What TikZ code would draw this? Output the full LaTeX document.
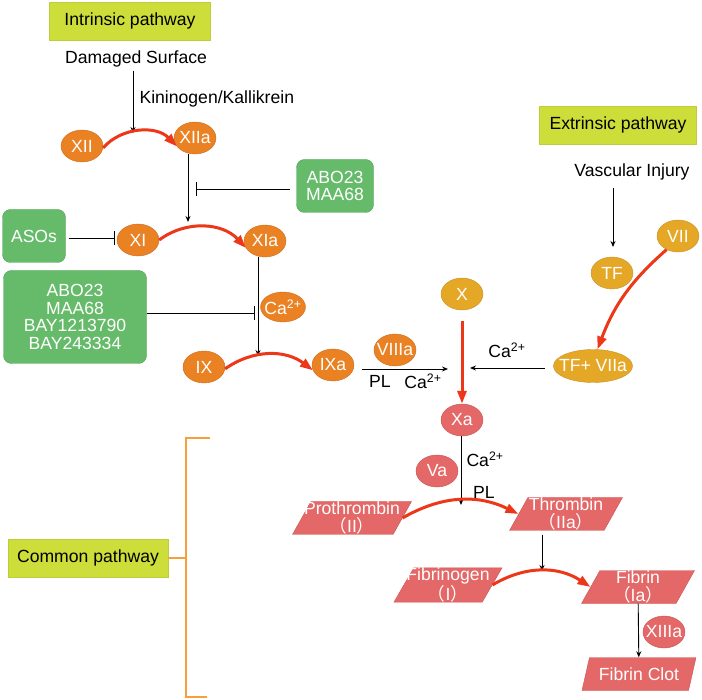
\documentclass[tikz,border=0pt]{standalone}
\usepackage{fontspec}
\setmainfont{Liberation Sans}
\newfontfamily\cjk{Noto Sans CJK SC}
\usetikzlibrary{shapes.geometric,arrows.meta,positioning}
\definecolor{lime}{RGB}{205,221,57}
\definecolor{limed}{RGB}{190,205,60}
\definecolor{grn}{RGB}{102,187,106}
\definecolor{grnd}{RGB}{85,160,90}
\definecolor{org}{RGB}{234,130,35}
\definecolor{orgd}{RGB}{205,110,35}
\definecolor{yel}{RGB}{229,167,38}
\definecolor{yeld}{RGB}{200,145,40}
\definecolor{pnk}{RGB}{229,104,104}
\definecolor{pnkd}{RGB}{200,85,85}
\definecolor{redA}{RGB}{236,55,25}
\definecolor{brko}{RGB}{245,160,60}

\begin{document}
\begin{tikzpicture}[x=1pt,y=-1pt,
  every node/.style={font=\fontsize{17.6}{17.6}\selectfont},
  fac/.style={ellipse,draw=orgd,fill=org,text=white,inner ysep=0pt,
    inner xsep=-6pt,minimum width=42pt,minimum height=32pt},
  ext/.style={fac,draw=yeld,fill=yel},
  com/.style={fac,draw=pnkd,fill=pnk},
  drug/.style={rectangle,rounded corners=8pt,draw=grnd,fill=grn,
    text=white,align=center,inner sep=0pt},
  pwbox/.style={rectangle,draw=limed,fill=lime,minimum height=38pt},
  para/.style={trapezium,trapezium left angle=60,trapezium right angle=120,
    trapezium stretches body,draw=pnkd,fill=pnk,text=white,align=center,
    inner ysep=0pt,inner xsep=-14pt,minimum height=33pt,
    font=\fontsize{17.6}{17.5}\selectfont},
  arr/.style={-{Stealth[length=6pt,width=5pt]},line width=0.9pt},
  inh/.style={-{Bar[width=14pt]},line width=0.9pt},
  conv/.style={-{Triangle[length=13pt,width=9pt]},line width=3pt,draw=redA},
  brk/.style={draw=brko,line width=1.2pt}]
\useasboundingbox (0,0) rectangle (702,700);

\node[pwbox,minimum width=161pt] (intr) at (130,21) {Intrinsic pathway};
\node[pwbox,minimum width=157pt] (extr) at (618,125) {Extrinsic pathway};
\node[pwbox,minimum width=160pt] (common) at (88,558) {Common pathway};

\node (dmg) at (136,59) {Damaged Surface};
\node[anchor=west] (kk) at (136,99) {Kininogen/Kallikrein};
\node (vi) at (632,172) {Vascular Injury};

\node[fac] (xii) at (82,146) {XII};
\node[fac] (xiia) at (195,138) {XIIa};
\node[fac] (xi) at (138,240) {XI};
\node[fac] (xia) at (265,241) {XIa};
\node[fac,minimum width=45pt,minimum height=30pt] (ca) at (283,307) {Ca\textsuperscript{2+}};
\node[fac] (ix) at (204,367) {IX};
\node[fac] (ixa) at (333,365) {IXa};
\node[fac] (viiia) at (395,350) {VIIIa};

\node[ext] (x) at (462,294) {X};
\node[ext] (tf) at (612,273) {TF};
\node[ext] (vii) at (678,236) {VII};
\node[ext,minimum width=78pt,minimum height=33pt] (tfv) at (593,366) {TF+ VIIa};

\node[com] (xa) at (462,420) {Xa};
\node[com] (va) at (437,471) {Va};
\node[com] (xiiia) at (664,632) {XIIIa};

\node[drug,minimum width=77pt,minimum height=53pt] (abo1) at (335,186) {ABO23\\MAA68};
\node[drug,minimum width=63pt,minimum height=53pt] (asos) at (34,236) {ASOs};
\node[drug,minimum width=143pt,minimum height=93pt] (abo2) at (75,317)
  {ABO23\\MAA68\\BAY1213790\\BAY243334};

\node[para,minimum width=119pt] (pro) at (352,518) {Prothrombin\\{\cjk （}II{\cjk ）}};
\node[para,minimum width=113pt] (thr) at (566,514) {Thrombin\\{\cjk （}IIa{\cjk ）}};
\node[para,minimum width=108pt] (fbg) at (448,585) {Fibrinogen\\{\cjk （}I{\cjk ）}};
\node[para,minimum width=113pt] (fib) at (638,587) {Fibrin\\{\cjk （}Ia{\cjk ）}};
\node[para,minimum width=114pt] (clot) at (639,674) {Fibrin Clot};

\node (pl1) at (380,381) {PL};
\node (ca1) at (423,381) {Ca\textsuperscript{2+}};
\node (ca2) at (507,350) {Ca\textsuperscript{2+}};
\node[anchor=west] (ca3) at (463,459) {Ca\textsuperscript{2+}};
\node (pl2) at (484,492) {PL};

\coordinate (k1) at (133,133);
\coordinate (c1) at (188,222);
\coordinate (h1) at (196,189);
\coordinate (h3) at (115,238);
\coordinate (c2) at (258,356);
\coordinate (h2) at (255,313);
\coordinate (c3) at (448,369);
\coordinate (c4) at (470,368);
\coordinate (c7) at (613,247);
\coordinate (c5) at (461,505);
\coordinate (c6) at (542,571);
\coordinate (b0) at (186,558);
\coordinate (b1) at (210,438);
\coordinate (b2) at (207,697);

\draw[arr] (dmg.south -| k1) -- (k1);
\draw[conv] (xii.-5) to[bend left=47] (xiia.205);
\draw[arr] (xiia.south -| c1) -- (c1);
\draw[inh,shorten <=6pt] (abo1.west |- h1) -- (h1);
\draw[inh,shorten <=3pt] (asos.east |- h3) -- (h3);
\draw[conv] (xi.east) to[bend left=42] (xia.200);
\draw[arr] (xia.south -| c2) -- (c2);
\draw[inh] (abo2.east |- h2) -- (h2);
\draw[conv] (ix.-5) to[bend left=36] (ixa.195);
\draw[arr] ([xshift=8pt]ixa.east |- c3) -- (c3);
\draw[conv,shorten <=11pt] (x) -- (xa);
\draw[arr,shorten <=8pt] (tfv.west |- c4) -- (c4);
\draw[arr,shorten <=4pt] (vi.south -| c7) -- (c7);
\draw[conv] (vii.230) to[bend right=14] (tfv.75);
\draw[arr] (xa.south -| c5) -- (c5);
\draw[conv] (pro.east) to[bend left=28] (thr.west);
\draw[arr,shorten <=4pt] (thr.south -| c6) -- (c6);
\draw[conv] (fbg.east) to[bend left=32] (fib.west);
\draw[arr] (fib) -- (clot);

\draw[brk] (b1) -- (b1 -| b0) -- (b2 -| b0) -- (b2);
\draw[brk] (common.east) -- (b0);
\end{tikzpicture}
\end{document}
